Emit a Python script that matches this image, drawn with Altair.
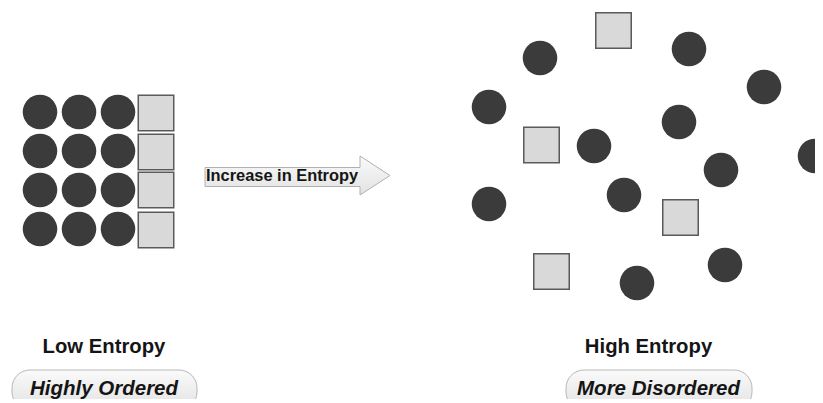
import altair as alt
import pandas as pd

# Left: ordered lattice
grid_cols_x = [40, 79, 118]
grid_rows_y = [112, 151, 190, 229]
left_square_x = 156
left_square_y = [113, 152, 190, 230]

# Right: disordered particles
right_circle_x = [540, 689, 764, 489, 679, 594, 815, 721, 624, 489, 725, 637]
right_circle_y = [58, 49, 87, 107, 122, 146, 156, 170, 195, 204, 265, 283]
right_square_x = [613.5, 541.5, 680.5, 551.5]
right_square_y = [30.5, 145, 217.5, 271.5]

# Arrow outline
arrow_x = [205, 360, 360, 390]
arrow_top = [167.5, 167.5, 156, 175.5]
arrow_bottom = [186.5, 186.5, 195, 175.5]
arrow_label = "Increase in Entropy"

# Labels
heading_text = ["Low Entropy", "High Entropy"]
heading_x = [104, 648.5]
pill_text = ["Highly Ordered", "More Disordered"]
pill_x = [104, 658.5]
pill_left = [12, 566]
pill_right = [197, 752]

W, H = 807, 391
xs = alt.Scale(domain=[8, 8 + W], range=[0, W], nice=False, zero=False)
ys = alt.Scale(domain=[8, 8 + H], range=[0, H], nice=False, zero=False)
FONT = "Liberation Sans"

circles = pd.DataFrame(
    [{"x": cx, "y": cy} for cy in grid_rows_y for cx in grid_cols_x]
    + [{"x": x, "y": y} for x, y in zip(right_circle_x, right_circle_y)]
)
squares = pd.DataFrame(
    [{"x": left_square_x, "y": y} for y in left_square_y]
    + [{"x": x, "y": y} for x, y in zip(right_square_x, right_square_y)]
)
arrow = pd.DataFrame({"x": arrow_x, "top": arrow_top, "bottom": arrow_bottom})
heads = pd.DataFrame({"t": heading_text, "x": heading_x, "y": [353, 353]})
pills = pd.DataFrame({"t": pill_text, "x": pill_x, "y": [395, 395],
                      "x1": pill_left, "x2": pill_right, "y1": [370, 370], "y2": [410, 410]})
alabel = pd.DataFrame({"t": [arrow_label], "x": [206], "y": [180.5]})

X = lambda f="x": alt.X(f, type="quantitative", scale=xs, axis=None)
Y = lambda f="y": alt.Y(f, type="quantitative", scale=ys, axis=None)

circ = alt.Chart(circles).mark_point(
    shape="circle", filled=True, size=1195, color="#3b3b3b", opacity=1, clip=True
).encode(x=X(), y=Y())

sq = alt.Chart(squares).mark_point(
    shape="square", filled=True, size=1260, fill="#d9d9d9", stroke="#5a5a5a",
    strokeWidth=1.5, opacity=1, clip=True
).encode(x=X(), y=Y())

grad = alt.LinearGradient(
    gradient="linear",
    stops=[alt.GradientStop(color="#fafafa", offset=0),
           alt.GradientStop(color="#e2e2e2", offset=1)],
    x1=0, x2=0, y1=0, y2=1,
)

arr = alt.Chart(arrow).mark_area(
    fill=grad, stroke="#b0b0b0", strokeWidth=1, interpolate="linear",
    orient="vertical", clip=True
).encode(x=X(), y=Y("top"), y2="bottom")

arr_txt = alt.Chart(alabel).mark_text(
    align="left", baseline="alphabetic", font=FONT, fontSize=16.4,
    fontWeight="bold", color="#151515", clip=True
).encode(x=X(), y=Y(), text="t:N")

pill_rect = alt.Chart(pills).mark_rect(
    fill=grad, stroke="#b8b8b8", strokeWidth=1, cornerRadius=18, clip=True
).encode(x=X("x1"), x2="x2", y=Y("y1"), y2="y2")

pill_txt = alt.Chart(pills).mark_text(
    align="center", baseline="alphabetic", font=FONT, fontSize=20.5,
    fontWeight="bold", fontStyle="italic", color="#151515", clip=True
).encode(x=X(), y=Y(), text="t:N")

head_txt = alt.Chart(heads).mark_text(
    align="center", baseline="alphabetic", font=FONT, fontSize=20.3,
    fontWeight="bold", color="#151515", clip=True
).encode(x=X(), y=Y(), text="t:N")

chart = alt.layer(circ, sq, arr, arr_txt, pill_rect, pill_txt, head_txt).properties(
    width=W, height=H, padding=0
).configure_view(stroke=None)

chart.save("out.html", embed_options={"renderer": "svg", "actions": False})
